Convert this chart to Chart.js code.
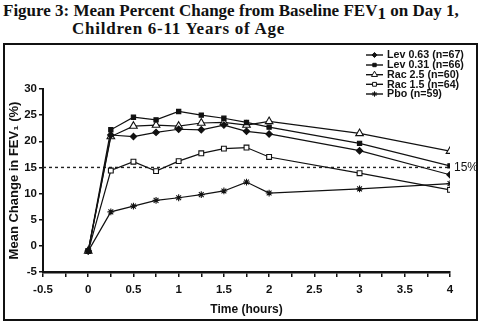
<!DOCTYPE html>
<html><head><meta charset="utf-8">
<script src="https://cdn.jsdelivr.net/npm/chart.js@4/dist/chart.umd.min.js"></script>
<style>
html,body{margin:0;padding:0;background:#fff;width:480px;height:325px;overflow:hidden;}
#title{position:absolute;left:3px;top:2px;font-family:"Liberation Serif","Times New Roman",serif;font-weight:bold;font-size:17px;line-height:18px;color:#111;white-space:nowrap;}
#title .l2{padding-left:69px;letter-spacing:0.75px;}
#title sub{font-size:17px;vertical-align:-3px;line-height:0;}
#box{position:absolute;left:3px;top:43px;width:471px;height:274px;border:2px solid #111;}
#wrap{position:absolute;left:0;top:0;width:480px;height:325px;}
</style></head>
<body>
<div id="title">Figure 3: Mean Percent Change from Baseline FEV<sub>1</sub> on Day 1,<br><span class="l2">Children 6-11 Years of Age</span></div>
<div id="box"></div>
<div id="wrap"><canvas id="c" width="480" height="325"></canvas></div>
<script>
const times = [0, 0.25, 0.5, 0.75, 1, 1.25, 1.5, 1.75, 2, 3, 4];
const lev063 = [-1, 21.2, 20.9, 21.7, 22.3, 22.2, 23.1, 21.9, 21.4, 18.2, 13.6];
const lev031 = [-1, 22.2, 24.6, 24.1, 25.7, 25.0, 24.4, 23.6, 22.7, 19.6, 15.3];
const rac25  = [-1, 20.9, 22.9, 23.1, 22.9, 23.5, 23.6, 23.1, 23.8, 21.5, 18.1];
const rac15  = [-1, 14.4, 16.1, 14.3, 16.2, 17.7, 18.6, 18.8, 17.0, 13.9, 10.7];
const pbo    = [-1, 6.5, 7.6, 8.7, 9.2, 9.8, 10.5, 12.2, 10.1, 10.9, 11.9];
const seriesLabels = ["Lev 0.63 (n=67)", "Lev 0.31 (n=66)", "Rac 2.5 (n=60)", "Rac 1.5 (n=64)", "Pbo (n=59)"];
const refValue = 15;
const refLabel = "15%";
const xTickLabels = ["-0.5","0","0.5","1","1.5","2","2.5","3","3.5","4"];
const yTicks = [-5, 0, 5, 10, 15, 20, 25, 30];

const toPts = arr => arr.map((v, i) => ({x: times[i], y: v}));
const styles = [
  {pointStyle: 'rectRot', radius: 3.2, bg: '#111'},
  {pointStyle: 'rect', radius: 3, bg: '#111'},
  {pointStyle: 'triangle', radius: 4.4, bg: '#fff'},
  {pointStyle: 'rect', radius: 3.4, bg: '#fff'},
  {pointStyle: 'star', radius: 3.4, bg: '#fff'}
];
const allSeries = [lev063, lev031, rac25, rac15, pbo];
const datasets = allSeries.map((arr, i) => ({
  label: seriesLabels[i],
  data: toPts(arr),
  borderColor: '#111',
  borderWidth: 1.2,
  backgroundColor: styles[i].bg,
  pointStyle: styles[i].pointStyle,
  pointRadius: styles[i].radius,
  pointBorderWidth: 1.1,
  pointBorderColor: '#111',
  pointBackgroundColor: styles[i].bg,
  fill: false,
  tension: 0
}));
datasets.push({
  label: 'ref',
  data: [{x: -0.5, y: refValue}, {x: 4, y: refValue}],
  borderColor: '#222',
  borderWidth: 1.4,
  borderDash: [3, 3],
  pointRadius: 0,
  fill: false
});

const legendPlugin = {
  id: 'customLegend',
  afterDraw(chart) {
    const ctx = chart.ctx;
    ctx.save();
    const rows = [55, 65, 74.7, 84.3, 94];
    ctx.font = 'bold 10.7px "Liberation Sans", Arial, sans-serif';
    ctx.textBaseline = 'middle';
    ctx.fillStyle = '#111';
    for (let i = 0; i < 5; i++) {
      const y = rows[i];
      ctx.strokeStyle = '#111';
      ctx.lineWidth = 1.4;
      ctx.beginPath(); ctx.moveTo(366, y); ctx.lineTo(383, y); ctx.stroke();
      ctx.fillStyle = styles[i].bg;
      ctx.lineWidth = 1;
      Chart.helpers.drawPoint(ctx, {pointStyle: styles[i].pointStyle, radius: styles[i].radius * 0.8, rotation: 0, borderWidth: 1}, 374.5, y);
      ctx.fillStyle = '#111';
      ctx.fillText(seriesLabels[i], 387, y + 0.5);
    }
    const ys = chart.scales.y.getPixelForValue(refValue);
    const xs = chart.scales.x.getPixelForValue(4);
    ctx.font = '12px "Liberation Sans", Arial, sans-serif';
    ctx.textAlign = 'left';
    ctx.fillText(refLabel, xs + 4, ys);
    ctx.restore();
  }
};

new Chart(document.getElementById('c'), {
  type: 'line',
  data: {datasets},
  plugins: [legendPlugin],
  options: {
    responsive: false,
    animation: false,
    devicePixelRatio: 1,
    layout: {padding: {top: 89, right: 30, left: 0, bottom: 0}},
    plugins: {legend: {display: false}, tooltip: {enabled: false}},
    scales: {
      x: {
        type: 'linear', min: -0.5, max: 4,
        afterFit(s) { s.height = 53; },
        afterBuildTicks(s) {
          const t = [];
          for (let k = 0; k <= 18; k++) t.push({value: -0.5 + k * 0.25});
          s.ticks = t;
        },
        ticks: {
          autoSkip: false, maxRotation: 0, padding: 6, color: '#111',
          font: {family: '"Liberation Sans", Arial, sans-serif', weight: 'bold', size: 11.5},
          callback(v) {
            const idx = xTickLabels.indexOf(String(Math.round(v * 100) / 100));
            return (Math.abs(v * 2 - Math.round(v * 2)) < 1e-6 && idx >= 0) ? xTickLabels[idx] : '';
          }
        },
        grid: {display: true, drawOnChartArea: false, drawTicks: true, tickLength: 5, color: '#111', lineWidth: 1.5},
        border: {display: true, color: '#111', width: 2.5},
        title: {display: true, text: 'Time (hours)', color: '#111', padding: {top: 2, bottom: 8},
          font: {family: '"Liberation Sans", Arial, sans-serif', weight: 'bold', size: 12}}
      },
      y: {
        type: 'linear', min: -5, max: 30,
        afterFit(s) { s.width = 43; },
        afterBuildTicks(s) { s.ticks = yTicks.map(v => ({value: v})); },
        ticks: {
          padding: 2, color: '#111',
          font: {family: '"Liberation Sans", Arial, sans-serif', weight: 'bold', size: 11.5}
        },
        grid: {display: true, drawOnChartArea: false, drawTicks: true, tickLength: 4, color: '#111', lineWidth: 1.5},
        border: {display: true, color: '#111', width: 2},
        title: {display: true, text: 'Mean Change in FEV\u2081 (%)', color: '#111', padding: {top: 7, bottom: 0},
          font: {family: '"Liberation Sans", Arial, sans-serif', weight: 'bold', size: 13}}
      }
    }
  }
});
</script>
</body></html>
